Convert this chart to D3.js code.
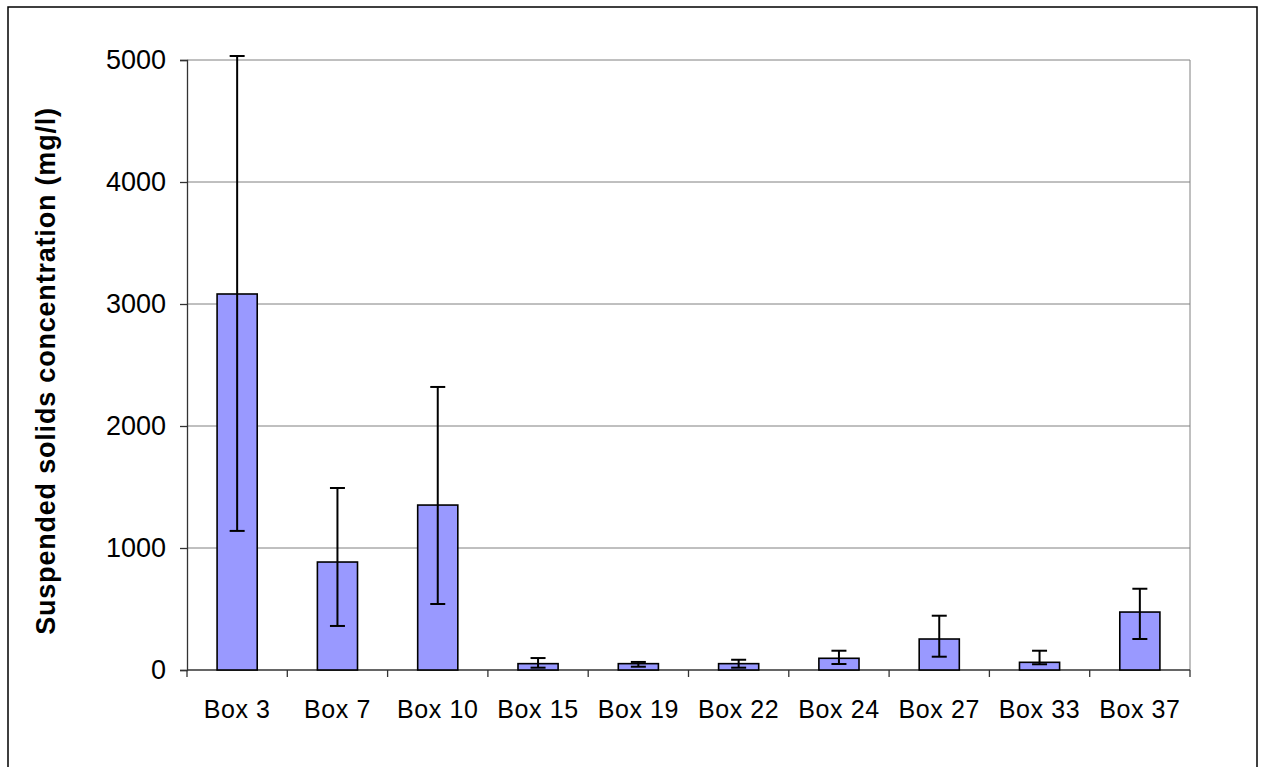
<!DOCTYPE html>
<html><head><meta charset="utf-8">
<script src="https://cdn.jsdelivr.net/npm/d3@7"></script>
<style>body{margin:0;background:#fff;} svg{display:block;}</style>
</head><body>
<svg id="chart" width="1261" height="767"></svg>
<script>
const categories = ["Box 3","Box 7","Box 10","Box 15","Box 19","Box 22","Box 24","Box 27","Box 33","Box 37"];
const values =     [3082, 885, 1352, 52, 52, 52, 96, 254, 63, 475];
const errUpper =   [5033, 1492, 2320, 98, 66, 84, 158, 445, 158, 666];
const errLower =   [1140, 361, 541, 19, 27, 19, 49, 109, 47, 254];
const yTicks = [0, 1000, 2000, 3000, 4000, 5000];
const yLabel = "Suspended solids concentration (mg/l)";

const svg = d3.select("#chart");
const L = 187, R = 1190, T = 60, B = 670;
const font = "Liberation Sans, Arial, sans-serif";

svg.append("rect").attr("x", 8).attr("y", 7).attr("width", 1249).attr("height", 800)
  .attr("fill", "none").attr("stroke", "#000").attr("stroke-width", 1.5);

const x = d3.scaleBand().domain(categories).range([L, R]).paddingInner(0.6).paddingOuter(0.3);
const y = d3.scaleLinear().domain([0, 5000]).range([B, T]);

// gridlines
svg.append("g").selectAll("line").data(yTicks.filter(d => d > 0)).join("line")
  .attr("x1", L).attr("x2", R).attr("y1", d => y(d)).attr("y2", d => y(d))
  .attr("stroke", "#808080").attr("stroke-width", 1);
// right border
svg.append("line").attr("x1", R).attr("x2", R).attr("y1", T).attr("y2", B)
  .attr("stroke", "#808080").attr("stroke-width", 1);

// y axis
const yAxis = d3.axisLeft(y).tickValues(yTicks).tickSize(7).tickPadding(14).tickFormat(d3.format("d"));
const gy = svg.append("g").attr("transform", `translate(${L},0)`).call(yAxis);
gy.select(".domain").attr("stroke", "#333").attr("stroke-width", 1.3);
gy.selectAll(".tick line").attr("stroke", "#333").attr("stroke-width", 1.3);
gy.selectAll("text").attr("font-family", font).attr("font-size", 27).attr("fill", "#000");

// x axis with ticks at category boundaries
const xb = d3.scaleLinear().domain([0, categories.length]).range([L, R]);
svg.append("line").attr("x1", L).attr("x2", R).attr("y1", B).attr("y2", B)
  .attr("stroke", "#333").attr("stroke-width", 1.3);
svg.append("g").selectAll("line").data(d3.range(categories.length + 1)).join("line")
  .attr("x1", d => xb(d)).attr("x2", d => xb(d)).attr("y1", B).attr("y2", B + 7)
  .attr("stroke", "#333").attr("stroke-width", 1.3);
svg.append("g").selectAll("text").data(categories).join("text")
  .attr("x", d => x(d) + x.bandwidth() / 2).attr("y", 718)
  .attr("text-anchor", "middle").attr("font-family", font).attr("font-size", 25)
  .attr("letter-spacing", 0.6)
  .attr("fill", "#000").text(d => d);

// bars
svg.append("g").selectAll("rect").data(categories).join("rect")
  .attr("x", d => x(d)).attr("width", x.bandwidth())
  .attr("y", (d, i) => y(values[i])).attr("height", (d, i) => B - y(values[i]))
  .attr("fill", "#9999FF").attr("stroke", "#000").attr("stroke-width", 1.6);

// error bars
const eg = svg.append("g").attr("stroke", "#000").attr("stroke-width", 2);
categories.forEach((c, i) => {
  const cx = x(c) + x.bandwidth() / 2;
  eg.append("line").attr("x1", cx).attr("x2", cx).attr("y1", y(errUpper[i])).attr("y2", y(errLower[i]));
  eg.append("line").attr("x1", cx - 7.5).attr("x2", cx + 7.5).attr("y1", y(errUpper[i])).attr("y2", y(errUpper[i]));
  eg.append("line").attr("x1", cx - 7.5).attr("x2", cx + 7.5).attr("y1", y(errLower[i])).attr("y2", y(errLower[i]));
});

// y label
svg.append("text").attr("transform", `translate(55,371) rotate(-90)`)
  .attr("text-anchor", "middle").attr("font-family", font).attr("font-weight", "bold")
  .attr("font-size", 27).attr("letter-spacing", 0.8).attr("fill", "#000").text(yLabel);
</script>
</body></html>
